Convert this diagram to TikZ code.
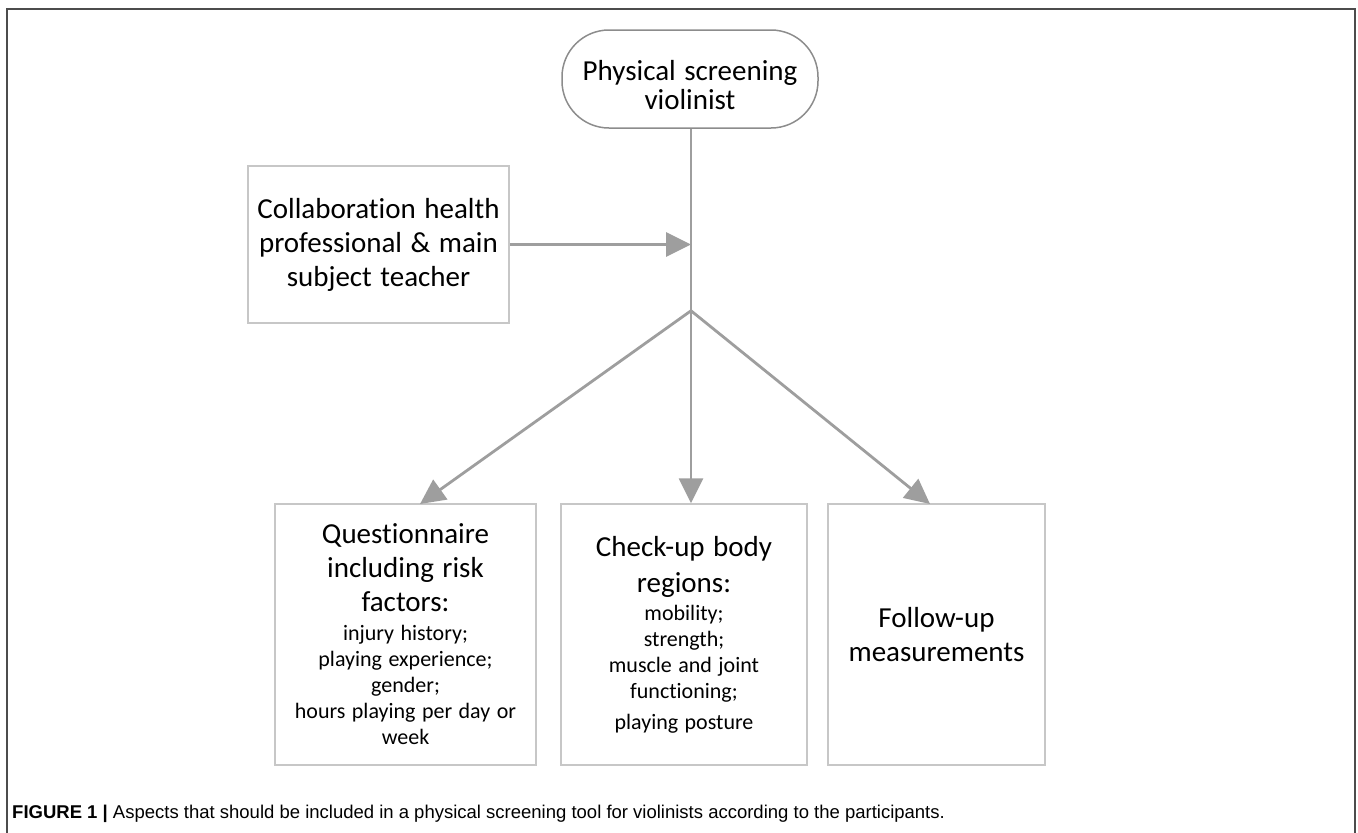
\documentclass[tikz,border=0pt]{standalone}
\usepackage{fontspec}
\setmainfont{Carlito}[Ligatures=NoCommon,WordSpace=1.3]
\newfontfamily\capfont{Liberation Sans}
\usetikzlibrary{arrows.meta}

\begin{document}
\begin{tikzpicture}[x=1pt,y=-1pt,
    box/.style={draw=black!22,line width=1.5pt,inner sep=0pt,align=center},
    flow/.style={draw=black!38,line width=2.8pt,-{Triangle[width=24pt,length=25pt]}},
    big/.style={font=\fontsize{29}{34}\selectfont}]
    \useasboundingbox (0,0) rectangle (1358,833);
    % outer frame
    \draw[black!70,line width=2pt] (7,833) -- (7,9) -- (1355,9) -- (1355,833);
    \path (690,79) node(screen)[draw=black!45,line width=1.5pt,rounded corners=47pt,
        minimum width=256pt,minimum height=98pt,
        label={[yshift=-6pt,align=center,font=\fontsize{29}{29}\selectfont]center:Physical screening\\violinist}] {};
    \path (378.5,244.5) node(collab)[box,big,minimum width=261pt,minimum height=157pt]
        {Collaboration health\\professional \& main\\subject teacher};
    \path (405.5,634.5) node(quest)[box,minimum width=261pt,minimum height=261pt]
        {\parbox{255pt}{\centering
         \fontsize{29}{34}\selectfont Questionnaire\\including risk\\factors:\par\vspace{3pt}
         \fontsize{22}{26}\selectfont injury history;\\playing experience;\\gender;\\hours playing per day or\\week\par}};
    \path (684,634.5) node(check)[box,minimum width=246pt,minimum height=261pt]
        {\parbox{240pt}{\centering
         \fontsize{29}{36}\selectfont Check-up body\\regions:\par\vspace{2pt}
         \fontsize{22}{26}\selectfont mobility;\\strength;\\muscle and joint\\functioning;\par\vspace{5pt}
         playing posture\par}};
    \path (936.5,634.5) node(follow)[box,big,minimum width=217pt,minimum height=261pt]
        {Follow-up\\measurements};
    \path (screen.south) ++(1,0) coordinate(stem) ++(0,182) coordinate(fork);
    \coordinate (qin) at (420,504);
    \coordinate (fin) at (930,504);
    \draw[flow,-] (stem) -- (fork);
    \draw[flow] (collab.east) -- (collab.east -| fork);
    \draw[flow] (fork) -- (qin);
    \draw[flow] (fork) -- (fork |- check.north);
    \draw[flow] (fork) -- (fin);
    % caption
    \path (12,818) node[anchor=base west,inner sep=0pt,font=\capfont\fontsize{18.5}{22}\selectfont]
        (caption) {\textbf{FIGURE 1 |} Aspects that should be included in a physical screening tool for violinists according to the participants.};
\end{tikzpicture}
\end{document}
